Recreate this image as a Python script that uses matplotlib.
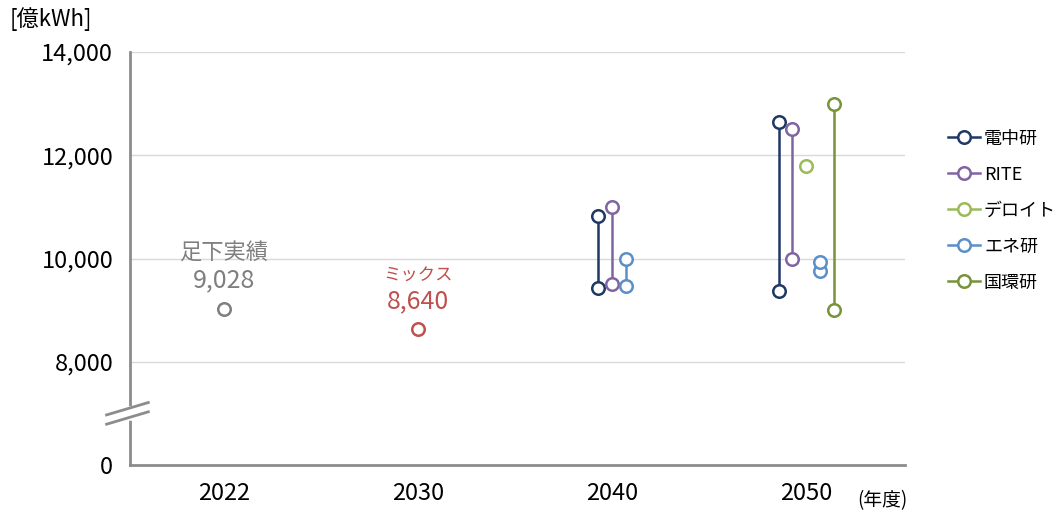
import matplotlib.pyplot as plt
from matplotlib.lines import Line2D

plt.rcParams['font.family'] = ['Noto Sans CJK JP', 'DejaVu Sans']

# x categories (fiscal years)
years = ['2022', '2030', '2040', '2050']

# reference points
actual_2022 = 9028
mix_2030 = 8640

# scenario ranges per institute: {year index: (low, high)}
institutes = ['電中研', 'RITE', 'デロイト', 'エネ研', '国環研']
colors = ['#1f3864', '#8064a2', '#9bbb59', '#5b8fc9', '#77933c']
ranges = {
    '電中研': {2: (9420, 10820), 3: (9370, 12650)},
    'RITE': {2: (9510, 11000), 3: (10000, 12510)},
    'デロイト': {3: (11800, 11800)},
    'エネ研': {2: (9460, 9990), 3: (9750, 9930)},
    '国環研': {3: (9000, 13000)},
}
offsets = {
    2: {'電中研': -0.072, 'RITE': 0.0, 'エネ研': 0.072},
    3: {'電中研': -0.14, 'RITE': -0.07, 'デロイト': 0.0, 'エネ研': 0.072, '国環研': 0.144},
}

fig = plt.figure(figsize=(10.56, 5.13), dpi=100)
ax = fig.add_axes([0.123, 0.0936, 0.734, 0.805])

ax.set_xlim(-0.485, 3.51)
ax.set_ylim(6000, 14000)

for v in [8000, 10000, 12000, 14000]:
    ax.axhline(v, color='#d9d9d9', lw=1, zorder=0)

mk = dict(marker='o', markersize=9, markerfacecolor='white', markeredgewidth=1.8)

ax.plot([0], [actual_2022], color='#7f7f7f', lw=0, **mk)
ax.text(0, 10130, '足下実績', ha='center', va='center', fontsize=16, color='#7f7f7f')
ax.text(0, 9580, f'{actual_2022:,}', ha='center', va='center', fontsize=18, color='#7f7f7f')

ax.plot([1], [mix_2030], color='#c0504d', lw=0, **mk)
ax.text(1, 9660, 'ミックス', ha='center', va='center', fontsize=12.5, color='#c0504d')
ax.text(1, 9180, f'{mix_2030:,}', ha='center', va='center', fontsize=18, color='#c0504d')

handles = []
for name, c in zip(institutes, colors):
    for yi, (lo, hi) in ranges[name].items():
        x = yi + offsets[yi][name]
        ys = [lo, hi] if lo != hi else [lo]
        ax.plot([x] * len(ys), ys, color=c, lw=1.8, zorder=3, **mk)
    handles.append(Line2D([0], [0], color=c, lw=1.8, **mk))

ax.legend(handles, institutes, loc='upper left', bbox_to_anchor=(1.046, 0.83),
          frameon=False, fontsize=13, handlelength=1.8, handletextpad=0.2,
          labelspacing=1.0, borderaxespad=0)

ax.set_xticks(range(len(years)))
ax.set_xticklabels(years, fontsize=17)
ax.set_yticks([6000, 8000, 10000, 12000, 14000])
ax.set_yticklabels(['0', '8,000', '10,000', '12,000', '14,000'], fontsize=17)
ax.tick_params(length=0, pad=12)
ax.tick_params(axis='x', pad=12)

for s in ['top', 'right']:
    ax.spines[s].set_visible(False)
for s in ['left', 'bottom']:
    ax.spines[s].set_color('#8c8c8c')
    ax.spines[s].set_linewidth(2)

# axis break marks
for dy in [-90, 90]:
    ax.plot([-0.605, -0.39], [7000 + dy - 120, 7000 + dy + 120], color='#8c8c8c',
            lw=2, clip_on=False, zorder=5)
ax.plot([-0.485, -0.485], [6910, 7090], color='white', lw=4, clip_on=False, zorder=4)

fig.text(0.009, 0.962, '[億kWh]', fontsize=16, ha='left', va='center')
fig.text(0.812, 0.025, '(年度)', fontsize=13.5, ha='left', va='center')

fig.savefig('out.png', dpi=100)
